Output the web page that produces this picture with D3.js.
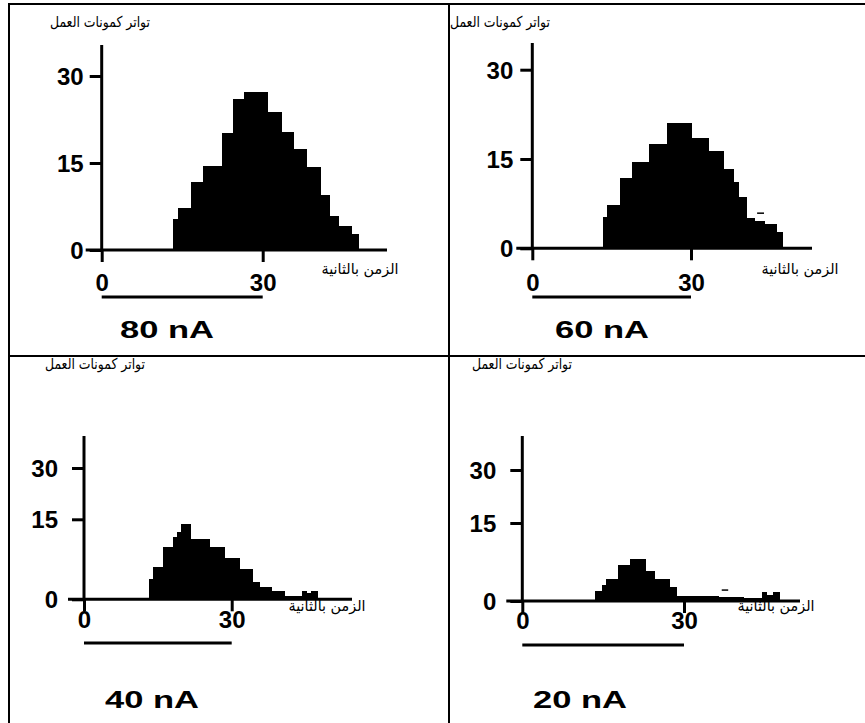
<!DOCTYPE html>
<html>
<head>
<meta charset="utf-8">
<script src="https://cdn.jsdelivr.net/npm/d3@7"></script>
<style>
  html, body { margin: 0; padding: 0; background: #fff; }
  svg { display: block; }
</style>
</head>
<body>
<svg id="chart" width="865" height="723"></svg>
<script>
// ---------- DATA ----------
const yTickValues = [0, 15, 30];
const xTickValues = [0, 30];
const yAxisTitle = "تواتر كمونات العمل";
const xAxisTitle = "الزمن بالثانية";
const currentLabels = ["80 nA", "60 nA", "40 nA", "20 nA"];

// bin edges (seconds) and counts for each stimulus current
const edges80 = [13.3, 14.3, 16.6, 18.9, 22.4, 24.4, 26.5, 30.9, 33.5, 35.8, 38.2, 40.8, 42.5, 44.1, 46.6, 47.8];
const counts80 = [5.3, 7.2, 11.8, 14.5, 20.1, 26.0, 27.2, 23.8, 20.3, 17.4, 14.3, 9.4, 5.9, 4.1, 2.8];

const edges60 = [13.3, 14.2, 16.6, 18.8, 22.1, 25.5, 30.1, 33.3, 36.1, 38.0, 39.0, 40.5, 42.1, 44.0, 46.2, 47.4];
const counts60 = [5.3, 7.2, 11.8, 14.5, 17.6, 21.1, 18.6, 16.3, 13.3, 11.2, 8.7, 5.1, 4.6, 4.0, 2.8];
const dash60 = [42.5, 43.8, 5.9];

const edges40 = [13.3, 14.1, 16.1, 18.0, 18.8, 19.7, 21.7, 25.5, 28.5, 31.7, 34.3, 35.6, 38.2, 40.7, 44.2, 45.2, 46.2, 47.4];
const counts40 = [3.75, 6.0, 9.75, 11.7, 12.6, 14.1, 11.4, 9.75, 7.7, 5.6, 3.3, 2.25, 1.56, 0.6, 1.56, 1.1, 1.56];

const edges20 = [13.4, 14.7, 15.5, 17.8, 19.9, 22.9, 24.5, 27.4, 28.6, 36.4, 41.0, 44.4, 45.3, 46.6, 47.7];
const counts20 = [2.0, 3.1, 4.2, 6.9, 8.1, 5.8, 4.2, 2.75, 1.0, 0.8, 0.5, 1.7, 1.2, 1.7];
const dash20 = [37.0, 38.2, 2.1];

// ---------- LAYOUT (pixels) ----------
const layouts = [
  { x0: 101.7, x30: 262.7, y0: 250, y15: 163, y30: 76, axisTop: 45, axisRight: 387, tickPad: 6,
    yTitleX: 100, yTitleY: 27, xTitleX: 360, xTitleY: 274, tickLabelY: 291, stimY: 297, curX: 120, curY: 338 },
  { x0: 532.3, x30: 691, y0: 248.3, y15: 159, y30: 69.7, axisTop: 43, axisRight: 812, tickPad: 7,
    yTitleX: 500, yTitleY: 27, xTitleX: 800, xTitleY: 274, tickLabelY: 291, stimY: 297, curX: 555, curY: 338 },
  { x0: 84, x30: 231.7, y0: 599.3, y15: 519.3, y30: 468, axisTop: 436, axisRight: 352, tickPad: 14,
    yTitleX: 95, yTitleY: 369, xTitleX: 327, xTitleY: 611, tickLabelY: 628, stimY: 643, curX: 105, curY: 708 },
  { x0: 522.3, x30: 684, y0: 601, y15: 523, y30: 470, axisTop: 436, axisRight: 800, tickPad: 14,
    yTitleX: 522, yTitleY: 369, xTitleX: 776, xTitleY: 611, tickLabelY: 629, stimY: 645, curX: 533, curY: 708 }
];

const series = [
  { edges: edges80, counts: counts80, dash: null },
  { edges: edges60, counts: counts60, dash: dash60 },
  { edges: edges40, counts: counts40, dash: null },
  { edges: edges20, counts: counts20, dash: dash20 }
];

const svg = d3.select("#chart");
const numFont = "'Liberation Sans', Arial, sans-serif";
const arFont = "'DejaVu Sans', sans-serif";

// table grid
svg.append("rect").attr("x", 0).attr("y", 0).attr("width", 865).attr("height", 723).attr("fill", "#fff");
const grid = svg.append("g").attr("stroke", "#000").attr("stroke-width", 2).attr("fill", "none");
grid.append("line").attr("x1", 9).attr("x2", 9).attr("y1", 3).attr("y2", 723);
grid.append("line").attr("x1", 8).attr("x2", 865).attr("y1", 4).attr("y2", 4);
grid.append("line").attr("x1", 449).attr("x2", 449).attr("y1", 3).attr("y2", 723);
grid.append("line").attr("x1", 8).attr("x2", 865).attr("y1", 356).attr("y2", 356);

series.forEach((s, i) => {
  const L = layouts[i];
  const g = svg.append("g");
  const x = d3.scaleLinear().domain([0, 30]).range([L.x0, L.x30]);
  const y = d3.scaleLinear().domain([0, 15, 30]).range([L.y0, L.y15, L.y30]);

  // histogram bars
  const bins = s.counts.map((c, k) => ({ a: s.edges[k], b: s.edges[k + 1], c }));
  g.append("g").selectAll("rect").data(bins).join("rect")
    .attr("x", d => x(d.a))
    .attr("width", d => x(d.b) - x(d.a) + 0.3)
    .attr("y", d => y(d.c))
    .attr("height", d => y(0) - y(d.c))
    .attr("fill", "#000")
    .attr("shape-rendering", "crispEdges");

  if (s.dash) {
    g.append("line")
      .attr("x1", x(s.dash[0])).attr("x2", x(s.dash[1]))
      .attr("y1", y(s.dash[2])).attr("y2", y(s.dash[2]))
      .attr("stroke", "#000").attr("stroke-width", 1.5);
  }

  // axes lines
  g.append("line").attr("x1", L.x0 - 16).attr("x2", L.axisRight)
    .attr("y1", L.y0).attr("y2", L.y0).attr("stroke", "#000").attr("stroke-width", 3);
  g.append("line").attr("x1", L.x0).attr("x2", L.x0)
    .attr("y1", L.axisTop).attr("y2", L.y0).attr("stroke", "#000").attr("stroke-width", 3);

  // y axis ticks and labels
  const yAx = d3.axisLeft(y).tickValues(yTickValues).tickSize(12).tickPadding(L.tickPad).tickFormat(d3.format("d"));
  const yg = g.append("g").attr("transform", `translate(${L.x0},0)`).call(yAx);
  yg.select(".domain").remove();
  yg.selectAll(".tick line").attr("stroke", "#000").attr("stroke-width", 3);
  yg.selectAll(".tick text").attr("font-family", numFont).attr("font-size", 24)
    .attr("font-weight", "bold").attr("fill", "#000").attr("dy", "0.36em");

  // x axis ticks and labels
  const xAx = d3.axisBottom(x).tickValues(xTickValues).tickSize(12).tickFormat(d3.format("d"));
  const xg = g.append("g").attr("transform", `translate(0,${L.y0})`).call(xAx);
  xg.select(".domain").remove();
  xg.selectAll(".tick line").attr("stroke", "#000").attr("stroke-width", 3);
  xg.selectAll(".tick text").attr("font-family", numFont).attr("font-size", 24)
    .attr("font-weight", "bold").attr("fill", "#000")
    .attr("y", L.tickLabelY - L.y0).attr("dy", 0);

  // titles
  g.append("text").attr("x", L.yTitleX).attr("y", L.yTitleY)
    .attr("text-anchor", "middle").attr("font-family", arFont).attr("font-size", 15)
    .attr("textLength", 100).attr("lengthAdjust", "spacingAndGlyphs")
    .attr("fill", "#000").text(yAxisTitle);
  g.append("text").attr("x", L.xTitleX).attr("y", L.xTitleY)
    .attr("text-anchor", "middle").attr("font-family", arFont).attr("font-size", 15)
    .attr("textLength", 77).attr("lengthAdjust", "spacingAndGlyphs")
    .attr("fill", "#000").text(xAxisTitle);

  // stimulus bar
  g.append("line").attr("x1", x(0)).attr("x2", x(30))
    .attr("y1", L.stimY).attr("y2", L.stimY).attr("stroke", "#000").attr("stroke-width", 3);

  // current label
  g.append("text").attr("x", L.curX).attr("y", L.curY)
    .attr("font-family", numFont).attr("font-size", 24).attr("font-weight", "bold")
    .attr("textLength", 94).attr("lengthAdjust", "spacingAndGlyphs")
    .attr("fill", "#000").text(currentLabels[i]);
});
</script>
</body>
</html>
